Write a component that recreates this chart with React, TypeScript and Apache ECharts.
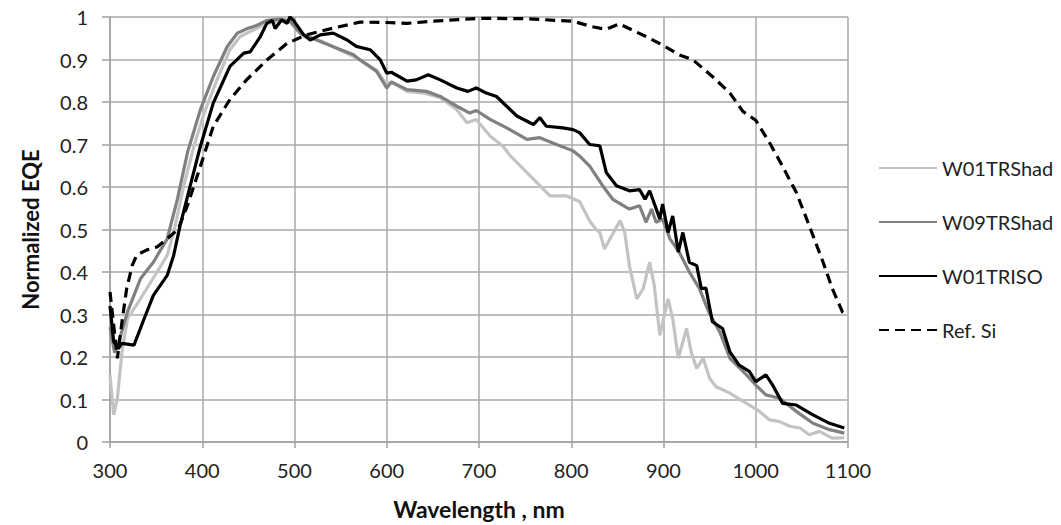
import React, { useEffect, useRef } from "react";
import * as echarts from "echarts";

const xTicks = { min: 300, max: 1100, interval: 100 };
const yTicks = { min: 0, max: 1, interval: 0.1 };

const W01TRShad: [number, number][] = [
  [300, 0.158], [304, 0.064], [308, 0.103], [313, 0.212], [319, 0.29], [333, 0.337], [351, 0.4], [362, 0.439],
  [369, 0.493], [380, 0.603], [391, 0.696], [402, 0.774], [416, 0.852], [430, 0.923], [441, 0.954], [456, 0.97],
  [470, 0.985], [484, 0.99], [497, 0.99], [510, 0.954], [528, 0.944], [549, 0.923], [571, 0.899], [589, 0.875],
  [600, 0.84], [605, 0.847], [622, 0.825], [640, 0.821], [658, 0.81], [676, 0.782], [687, 0.751], [697, 0.759],
  [712, 0.72], [726, 0.696], [734, 0.673], [752, 0.634], [766, 0.603], [777, 0.579], [795, 0.579], [809, 0.566],
  [820, 0.52], [827, 0.5], [831, 0.493], [836, 0.454], [842, 0.478], [853, 0.521], [858, 0.493], [863, 0.415],
  [871, 0.337], [878, 0.361], [885, 0.423], [890, 0.368], [896, 0.251], [905, 0.337], [910, 0.29], [916, 0.197],
  [925, 0.267], [930, 0.212], [936, 0.173], [943, 0.197], [950, 0.15], [957, 0.13], [972, 0.115], [990, 0.091],
  [1004, 0.072], [1015, 0.052], [1026, 0.048], [1037, 0.037], [1048, 0.033], [1058, 0.017], [1069, 0.025],
  [1083, 0.009], [1096, 0.01],
];

const W09TRShad: [number, number][] = [
  [300, 0.27], [305, 0.21], [310, 0.24], [319, 0.306], [333, 0.384], [347, 0.423], [362, 0.478], [373, 0.571],
  [384, 0.681], [398, 0.782], [412, 0.86], [427, 0.93], [438, 0.962], [449, 0.973], [459, 0.98], [470, 0.992],
  [485, 0.995], [495, 0.99], [506, 0.962], [524, 0.946], [542, 0.93], [564, 0.911], [571, 0.899], [589, 0.872],
  [600, 0.833], [605, 0.847], [622, 0.829], [643, 0.825], [658, 0.813], [676, 0.79], [690, 0.774], [697, 0.78],
  [712, 0.759], [730, 0.739], [752, 0.712], [766, 0.716], [784, 0.7], [802, 0.685], [809, 0.673], [820, 0.649],
  [834, 0.603], [845, 0.571], [863, 0.548], [874, 0.556], [881, 0.517], [887, 0.548], [892, 0.517], [899, 0.525],
  [907, 0.478], [917, 0.447], [928, 0.4], [939, 0.361], [949, 0.306], [961, 0.259], [972, 0.197], [990, 0.158],
  [1000, 0.134], [1011, 0.111], [1026, 0.103], [1044, 0.072], [1062, 0.044], [1080, 0.029], [1096, 0.021],
];

const W01TRISO: [number, number][] = [
  [300, 0.32], [304, 0.236], [309, 0.22], [313, 0.232], [326, 0.228], [337, 0.29], [347, 0.345], [362, 0.392],
  [369, 0.439], [376, 0.509], [387, 0.603], [398, 0.696], [412, 0.798], [430, 0.884], [445, 0.915], [452, 0.918],
  [463, 0.954], [470, 0.985], [476, 0.992], [479, 0.973], [486, 0.993], [492, 0.985], [495, 1.0], [499, 0.992],
  [510, 0.958], [517, 0.946], [528, 0.958], [542, 0.962], [557, 0.946], [567, 0.931], [582, 0.923], [593, 0.899],
  [600, 0.868], [605, 0.87], [622, 0.849], [632, 0.852], [645, 0.864], [658, 0.852], [676, 0.833], [688, 0.825],
  [697, 0.833], [708, 0.821], [719, 0.813], [730, 0.79], [741, 0.767], [759, 0.747], [766, 0.763], [773, 0.743],
  [791, 0.739], [802, 0.735], [809, 0.728], [820, 0.7], [831, 0.697], [838, 0.634], [849, 0.603], [863, 0.591],
  [874, 0.594], [880, 0.571], [885, 0.591], [896, 0.525], [899, 0.56], [905, 0.493], [910, 0.532], [916, 0.447],
  [921, 0.493], [928, 0.423], [936, 0.415], [941, 0.361], [946, 0.362], [953, 0.283], [964, 0.267], [972, 0.212],
  [982, 0.181], [993, 0.166], [1000, 0.142], [1011, 0.158], [1018, 0.135], [1029, 0.091], [1044, 0.087],
  [1062, 0.064], [1080, 0.044], [1096, 0.033],
];

const RefSi: [number, number][] = [
  [300, 0.353], [308, 0.197], [313, 0.283], [318, 0.36], [324, 0.415], [329, 0.44], [340, 0.452], [351, 0.459],
  [362, 0.478], [374, 0.501], [385, 0.563], [398, 0.649], [412, 0.743], [430, 0.806], [448, 0.852], [470, 0.899],
  [492, 0.938], [513, 0.958], [542, 0.974], [571, 0.988], [600, 0.987], [622, 0.985], [650, 0.99], [701, 0.997],
  [751, 0.996], [802, 0.99], [823, 0.977], [838, 0.971], [852, 0.984], [881, 0.954], [899, 0.934], [917, 0.911],
  [932, 0.899], [953, 0.86], [972, 0.821], [986, 0.778], [1000, 0.757], [1015, 0.704], [1029, 0.649],
  [1044, 0.587], [1058, 0.509], [1073, 0.423], [1083, 0.361], [1094, 0.306], [1098, 0.3],
];

const FONT = "Lato, 'Open Sans', sans-serif";

export default function App() {
  const ref = useRef<HTMLDivElement>(null);
  useEffect(() => {
    document.body.style.margin = "0";
    const chart = echarts.init(ref.current!, null, { renderer: "svg" });
    const mk = (name: string, data: [number, number][], color: string, dashed = false) => ({
      name,
      type: "line",
      data,
      symbol: "none",
      showSymbol: false,
      lineStyle: { color, width: 3.2, type: dashed ? [10, 6] : "solid" },
      itemStyle: { color },
    });
    chart.setOption({
      animation: false,
      textStyle: { fontFamily: FONT },
      grid: { left: 110, right: 213, top: 17, bottom: 81 },
      legend: {
        orient: "vertical",
        left: 873,
        top: 153,
        itemWidth: 58,
        itemHeight: 14,
        itemGap: 34,
        itemStyle: { opacity: 0 },
        textStyle: { fontSize: 20, color: "#222", fontFamily: FONT },
        data: ["W01TRShad", "W09TRShad", "W01TRISO", "Ref. Si"],
      },
      xAxis: {
        type: "value",
        min: xTicks.min,
        max: xTicks.max,
        interval: xTicks.interval,
        name: "Wavelength , nm",
        nameLocation: "middle",
        nameGap: 55,
        nameTextStyle: { fontSize: 23, fontWeight: "bold", color: "#111", fontFamily: FONT },
        axisLine: { show: true, lineStyle: { color: "#a0a0a0", width: 1.5 } },
        axisTick: { show: true, length: 6, lineStyle: { color: "#a0a0a0", width: 1.5 } },
        axisLabel: { fontSize: 20, color: "#222", margin: 18, formatter: (v: number) => String(v) },
        splitLine: { show: true, lineStyle: { color: "#a8a8a8", width: 1.5 } },
      },
      yAxis: {
        type: "value",
        min: yTicks.min,
        max: yTicks.max,
        interval: yTicks.interval,
        name: "Normalized EQE",
        nameLocation: "middle",
        nameGap: 69,
        nameTextStyle: { fontSize: 22, fontWeight: "bold", color: "#111", fontFamily: FONT },
        axisLine: { show: true, lineStyle: { color: "#a0a0a0", width: 1.5 } },
        axisTick: { show: true, length: 8, lineStyle: { color: "#a0a0a0", width: 1.5 } },
        axisLabel: { fontSize: 20, color: "#222", margin: 22 },
        splitLine: { show: true, lineStyle: { color: "#a8a8a8", width: 1.5 } },
      },
      series: [
        mk("W01TRShad", W01TRShad, "#c3c3c3"),
        mk("W09TRShad", W09TRShad, "#808080"),
        mk("W01TRISO", W01TRISO, "#000000"),
        mk("Ref. Si", RefSi, "#000000", true),
      ],
    });
    return () => chart.dispose();
  }, []);
  return <div ref={ref} style={{ position: "absolute", left: 0, top: 0, width: 1061, height: 525 }} />;
}
